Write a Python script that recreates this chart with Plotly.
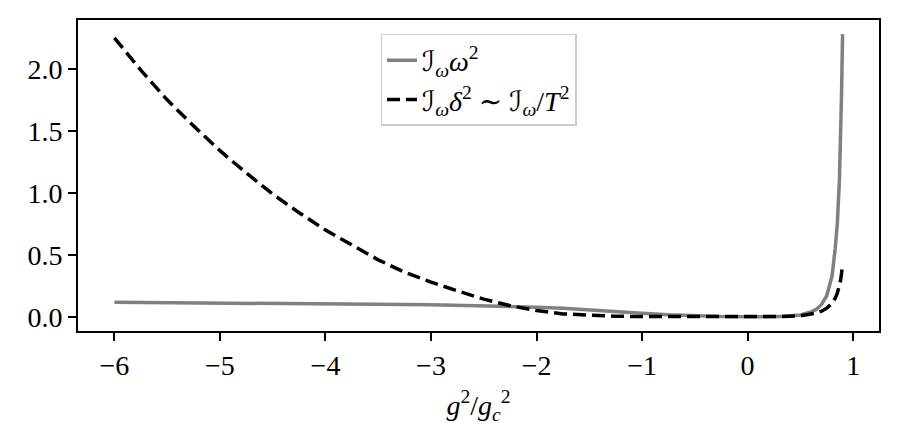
import plotly.graph_objects as go

# g^2 / g_c^2
coupling = [-6.0, -5.75, -5.5, -5.25, -5.0, -4.75, -4.5, -4.25, -4.0, -3.75, -3.5, -3.25,
            -3.0, -2.75, -2.5, -2.25, -2.0, -1.75, -1.5, -1.25, -1.0, -0.75, -0.5, -0.25,
            0.0, 0.3, 0.5, 0.6, 0.65, 0.7, 0.75, 0.8, 0.83, 0.85, 0.87, 0.88, 0.89, 0.9]

# I_w * w^2
omega_term = [0.117, 0.116, 0.115, 0.114, 0.113, 0.1115, 0.110, 0.1085, 0.107, 0.105, 0.103, 0.100,
              0.097, 0.094, 0.090, 0.085, 0.078, 0.069, 0.058, 0.045, 0.030, 0.017, 0.007, 0.002,
              0.0, 0.002, 0.015, 0.04, 0.06, 0.10, 0.17, 0.33, 0.55, 0.75, 1.10, 1.40, 1.80, 2.28]

# I_w * delta^2 ~ I_w / T^2
delta_term = [2.25, 1.99, 1.75, 1.54, 1.34, 1.16, 0.99, 0.84, 0.70, 0.58, 0.46, 0.36,
              0.28, 0.21, 0.143, 0.09, 0.051, 0.024, 0.012, 0.005, 0.002, 0.001, 0.0, 0.0,
              0.0, 0.002, 0.008, 0.02, 0.03, 0.045, 0.07, 0.11, 0.15, 0.19, 0.25, 0.29, 0.35, 0.43]

x_ticks = [-6, -5, -4, -3, -2, -1, 0, 1]
y_ticks = [0.0, 0.5, 1.0, 1.5, 2.0]

FONT = "Liberation Serif, DejaVu Serif, DejaVu Sans"
SCRIPT_I = "<span style='font-family:DejaVu Sans'>ℐ</span>"

fig = go.Figure()
fig.add_trace(go.Scatter(
    x=coupling, y=omega_term, mode="lines",
    line=dict(color="#808080", width=3.5),
    name=f"{SCRIPT_I}<sub><i>ω</i></sub><i>ω</i><sup>2</sup>",
))
fig.add_trace(go.Scatter(
    x=coupling, y=delta_term, mode="lines",
    line=dict(color="black", width=3.5, dash="13px,6px"),
    name=f"{SCRIPT_I}<sub><i>ω</i></sub><i>δ</i><sup>2</sup> ∼ {SCRIPT_I}<sub><i>ω</i></sub>/<i>T</i><sup>2</sup>",
))

axis_common = dict(
    showline=True, linecolor="black", linewidth=2, mirror=True,
    ticks="outside", ticklen=8, tickwidth=2, tickcolor="black",
    showgrid=False, zeroline=False,
    tickfont=dict(family=FONT, size=28, color="black"),
)

fig.update_xaxes(
    range=[-6.345, 1.245], tickvals=x_ticks, automargin=True,
    title=dict(text="<i>g</i><sup>2</sup>/<i>g</i><sub><i>c</i></sub><sup>2</sup>",
               font=dict(family=FONT, size=28, color="black"), standoff=16),
    **axis_common,
)
fig.update_yaxes(
    range=[-0.114, 2.394], tickvals=y_ticks, tickformat=".1f",
    **axis_common,
)

# page body adds an 8px offset, so margins are shifted to compensate
fig.update_layout(
    width=898, height=440,
    margin=dict(l=70, r=27, t=10, b=117),
    plot_bgcolor="white", paper_bgcolor="white",
    font=dict(family=FONT, size=28, color="black"),
    legend=dict(
        x=0.5, xanchor="center", y=0.955, yanchor="top",
        bgcolor="white", bordercolor="#cccccc", borderwidth=1.5,
        font=dict(family=FONT, size=28, color="black"),
        tracegroupgap=0,
    ),
)

fig.write_html("out.html")
